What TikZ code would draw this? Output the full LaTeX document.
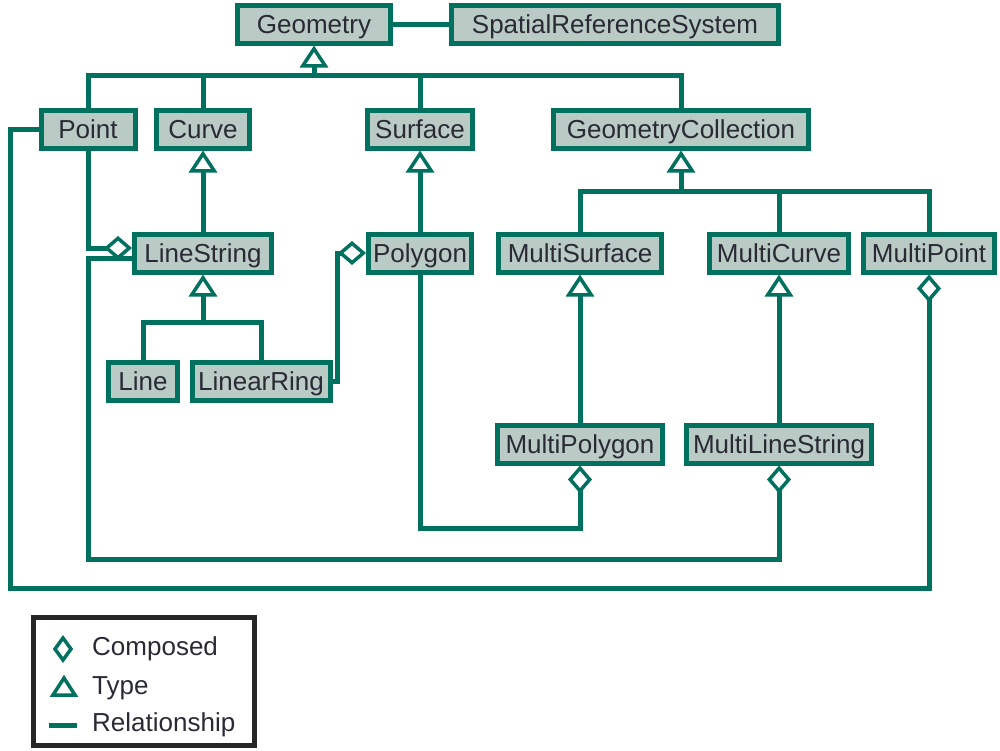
\documentclass[tikz,border=0pt]{standalone}
\usepackage{fontspec}
\setmainfont{Liberation Sans}
\usetikzlibrary{arrows.meta}
\definecolor{ogcgreen}{HTML}{00705F}
\definecolor{ogcgray}{HTML}{BACAC5}
\definecolor{ogctext}{HTML}{2A2A35}

\begin{document}
\begin{tikzpicture}[x=1pt,y=-1pt,font=\fontsize{26}{30}\selectfont,
  cls/.style={draw=ogcgreen,line width=5pt,fill=ogcgray,text=ogctext,inner xsep=2pt,inner ysep=0pt,
    text height=20pt,text depth=2pt,minimum height=38pt},
  rel/.style={draw=ogcgreen,line width=5pt},
  gen/.style={rel,-{Triangle[open,length=22pt,width=28pt,line width=3.5pt]}},
  comp/.style={rel,{Diamond[open,length=28pt,width=24pt,line width=3.5pt]}-},
  key/.style={anchor=base west,inner sep=0pt,text=ogctext}]
\useasboundingbox (0,0) rectangle (1000,750);
\node[cls,minimum width=153pt] (Geo) at (314,24) {Geometry};
\node[cls,minimum width=327pt] (SRS) at (615,24) {SpatialReferenceSystem};
\node[cls,minimum width=94pt] (Pt) at (88,129) {Point};
\node[cls,minimum width=93pt] (Cv) at (203,129) {Curve};
\node[cls,minimum width=105pt] (Sf) at (420,129) {Surface};
\node[cls,minimum width=255pt] (GC) at (681,129) {GeometryCollection};
\node[cls,minimum width=137pt] (LS) at (203,253) {LineString};
\node[cls,minimum width=103pt] (Pg) at (420,253) {Polygon};
\node[cls,minimum width=163pt] (MS) at (580,253) {MultiSurface};
\node[cls,minimum width=139pt] (MC) at (779,253) {MultiCurve};
\node[cls,minimum width=131pt] (MP) at (929,253) {MultiPoint};
\node[cls,minimum width=69pt] (Ln) at (143,381) {Line};
\node[cls,minimum width=138pt] (LR) at (261,381) {LinearRing};
\node[cls,minimum width=165pt] (MPg) at (580,444) {MultiPolygon};
\node[cls,minimum width=185pt] (MLS) at (779,444) {MultiLineString};
\coordinate (b1) at (314,75);
\coordinate (b2) at (681,191);
\coordinate (b3) at (203,322);
\coordinate (c1) at (420,528);
\coordinate (c2) at (88,559);
\coordinate (c3) at (10,588);
\draw[rel] (Geo) -- (SRS);
\draw[gen] (b1) -- (Geo);
\draw[rel] (Pt.north) |- (GC.north |- b1) -- (GC.north);
\draw[rel] (Cv.north) -- (Cv.north |- b1);
\draw[rel] (Sf.north) -- (Sf.north |- b1);
\draw[gen] (LS) -- (Cv);
\draw[gen] (Pg) -- (Sf);
\draw[gen] (b3) -- (LS);
\draw[rel] (Ln.north) |- (LR.north |- b3) -- (LR.north);
\draw[gen] (b2) -- (GC);
\draw[rel] (MS.north) |- (MP.north |- b2) -- (MP.north);
\draw[rel] (MC.north) -- (MC.north |- b2);
\draw[gen] (MPg) -- (MS);
\draw[gen] (MLS) -- (MC);
\draw[comp] ([yshift=5pt]LS.west) -| (Pt.south);
\draw[comp] (Pg.west) -- ++(-29,0) |- (LR.east);
\draw[comp] (MPg.south) |- (c1) -- (Pg.south);
\draw[comp] (MLS.south) |- (c2) |- ([yshift=-5pt]LS.west);
\draw[comp] (MP.south) |- (c3) |- (Pt.west);
\draw[line width=5pt,draw=black!85] (33.5,617.5) rectangle (254.5,745.5);
\draw[ogcgreen,line width=3.5pt] (63,638) -- (71,649) -- (63,660) -- (55,649) -- cycle;
\draw[ogcgreen,line width=3.5pt] (64,678) -- (75,695) -- (53,695) -- cycle;
\draw[ogcgreen,line width=5pt] (49,725) -- (77,725);
\node[key] (lc) at (92,655) {Composed};
\node[key] (lt) at (92,694) {Type};
\node[key] (lr) at (92,731) {Relationship};
\end{tikzpicture}
\end{document}
